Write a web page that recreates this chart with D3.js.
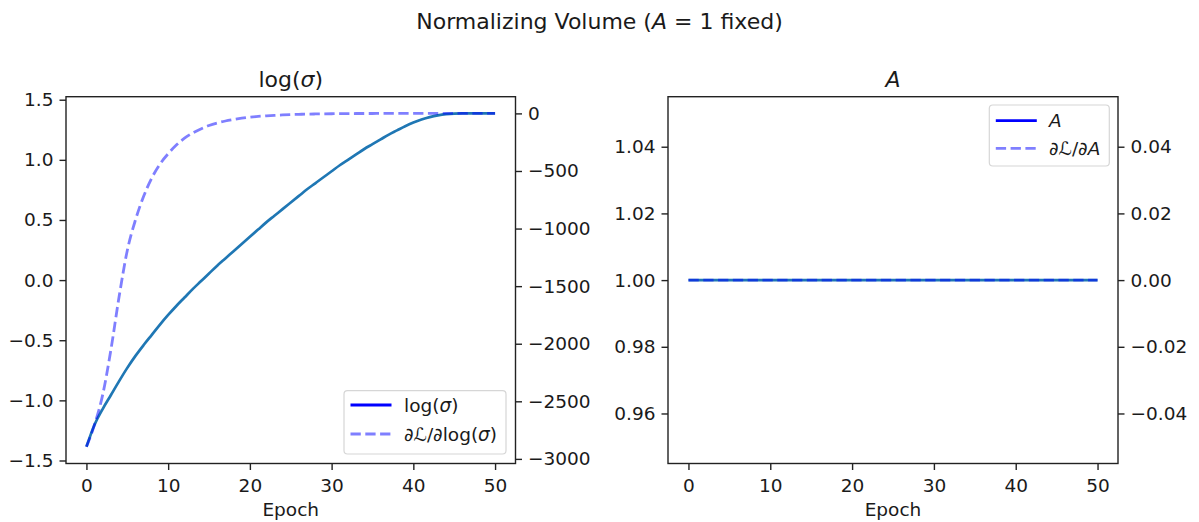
<!DOCTYPE html>
<html>
<head>
<meta charset="utf-8">
<script src="https://cdn.jsdelivr.net/npm/d3@7"></script>
<style>
  body { margin: 0; background: #fff; }
  text { font-family: "DejaVu Sans", sans-serif; fill: #1a1a1a; }
</style>
</head>
<body>
<div id="chart"></div>
<script>
// epochs shared by both panels
const epochs = [0, 1, 2, 3, 4, 5, 6, 7, 8, 9, 10, 11, 12, 13, 14, 15, 16, 17, 18, 19, 20,
    21, 22, 23, 24, 25, 26, 27, 28, 29, 30, 31, 32, 33, 34, 35, 36, 37, 38, 39, 40,
    41, 42, 43, 44, 45, 46, 47, 48, 49, 50];

// left panel: log(sigma) and its gradient (right axis)
const logSigma = [-1.386, -1.20, -1.07, -0.955, -0.84, -0.73, -0.63, -0.54, -0.455, -0.37,
    -0.29, -0.215, -0.145, -0.075, -0.01, 0.055, 0.12, 0.18, 0.24, 0.30,
    0.36, 0.42, 0.48, 0.535, 0.59, 0.645, 0.70, 0.755, 0.805, 0.855,
    0.905, 0.955, 1.00, 1.045, 1.09, 1.13, 1.17, 1.21, 1.245, 1.28,
    1.31, 1.335, 1.355, 1.37, 1.38, 1.385, 1.386, 1.386, 1.386, 1.386, 1.386];
const gradLogSigma = [-2895, -2700, -2440, -2050, -1590, -1190, -925, -720, -560, -440,
    -350, -275, -215, -170, -135, -105, -83, -66, -53, -42,
    -33, -26, -21, -17, -13, -10, -8, -6, -5, -4,
    -3, -2, -2, -1, -1, -1, 0, 0, 0, 0,
    0, 0, 0, 0, 0, 0, 0, 0, 0, 0, 0];

// right panel: A (fixed) and its gradient
const ampA = [1, 1, 1, 1, 1, 1, 1, 1, 1, 1, 1, 1, 1, 1, 1, 1, 1, 1, 1, 1, 1, 1, 1, 1, 1, 1,
    1, 1, 1, 1, 1, 1, 1, 1, 1, 1, 1, 1, 1, 1, 1, 1, 1, 1, 1, 1, 1, 1, 1, 1, 1];
const gradA = [0, 0, 0, 0, 0, 0, 0, 0, 0, 0, 0, 0, 0, 0, 0, 0, 0, 0, 0, 0, 0, 0, 0, 0, 0, 0,
    0, 0, 0, 0, 0, 0, 0, 0, 0, 0, 0, 0, 0, 0, 0, 0, 0, 0, 0, 0, 0, 0, 0, 0, 0];

// tick values
const xTicks = [0, 10, 20, 30, 40, 50];
const logSigmaTicks = [-1.5, -1.0, -0.5, 0.0, 0.5, 1.0, 1.5];
const gradLogSigmaTicks = [-3000, -2500, -2000, -1500, -1000, -500, 0];
const ampTicks = [0.96, 0.98, 1.00, 1.02, 1.04];
const gradATicks = [-0.04, -0.02, 0.00, 0.02, 0.04];

const W = 1199, H = 522;
const plotTop = 96.7, plotBottom = 463.5;
const tickFont = "18.5px", titleFont = "22px";
const panels = [
    {left: 66, right: 515.5, y: logSigma, y2: gradLogSigma,
     yDomain: [-1.525, 1.525], y2Domain: [-3040, 145],
     yTicks: logSigmaTicks, y2Ticks: gradLogSigmaTicks,
     yFmt: d3.format(".1f"), y2Fmt: d3.format("d")},
    {left: 668, right: 1118, y: ampA, y2: gradA,
     yDomain: [0.945, 1.055], y2Domain: [-0.055, 0.055],
     yTicks: ampTicks, y2Ticks: gradATicks,
     yFmt: d3.format(".2f"), y2Fmt: d3.format(".2f")}
];

const svg = d3.select("#chart")
    .append("svg")
    .attr("width", W)
    .attr("height", H);

// suptitle
const sup = svg.append("text")
    .attr("x", 599.5)
    .attr("y", 29)
    .attr("text-anchor", "middle")
    .style("font-size", titleFont);
sup.append("tspan").text("Normalizing Volume (");
sup.append("tspan").style("font-style", "italic").text("A");
sup.append("tspan").text(" = 1 fixed)");

panels.forEach(function (p, i) {
    const g = svg.append("g");

    const x = d3.scaleLinear().domain([-2.5, 52.5]).range([p.left, p.right]);
    const y = d3.scaleLinear().domain(p.yDomain).range([plotBottom, plotTop]);
    const y2 = d3.scaleLinear().domain(p.y2Domain).range([plotBottom, plotTop]);

    const xAxis = g.append("g")
        .attr("transform", `translate(0, ${plotBottom})`)
        .call(d3.axisBottom(x).tickValues(xTicks).tickFormat(d3.format("d")).tickSize(6.5).tickPadding(8.5));
    const yAxis = g.append("g")
        .attr("transform", `translate(${p.left}, 0)`)
        .call(d3.axisLeft(y).tickValues(p.yTicks).tickFormat(p.yFmt).tickSize(6.5).tickPadding(6));
    const y2Axis = g.append("g")
        .attr("transform", `translate(${p.right}, 0)`)
        .call(d3.axisRight(y2).tickValues(p.y2Ticks).tickFormat(p.y2Fmt).tickSize(6.5).tickPadding(6));

    [xAxis, yAxis, y2Axis].forEach(function (a) {
        a.select(".domain").remove();
        a.selectAll("line").attr("stroke", "#222").attr("stroke-width", 1.4);
        a.selectAll("text")
            .attr("fill", "#1a1a1a")
            .style("font-family", "DejaVu Sans")
            .style("font-size", tickFont);
    });

    const line = d3.line()
        .x(function (d, j) {return x(epochs[j]);})
        .y(function (d) {return y(d);})
        .curve(d3.curveMonotoneX);
    const line2 = d3.line()
        .x(function (d, j) {return x(epochs[j]);})
        .y(function (d) {return y2(d);})
        .curve(d3.curveMonotoneX);

    g.append("path")
        .datum(p.y)
        .attr("d", line)
        .attr("fill", "none")
        .attr("stroke", "#1f77b4")
        .attr("stroke-width", 2.7);

    g.append("path")
        .datum(p.y2)
        .attr("d", line2)
        .attr("fill", "none")
        .attr("stroke", "#0000ff")
        .attr("stroke-opacity", 0.5)
        .attr("stroke-width", 2.8)
        .attr("stroke-dasharray", "10.3,4.5");

    // frame
    g.append("rect")
        .attr("x", p.left)
        .attr("y", plotTop)
        .attr("width", p.right - p.left)
        .attr("height", plotBottom - plotTop)
        .attr("fill", "none")
        .attr("stroke", "#222")
        .attr("stroke-width", 1.4);

    // panel title
    const cx = (p.left + p.right) / 2;
    const t = g.append("text")
        .attr("x", cx)
        .attr("y", 87)
        .attr("text-anchor", "middle")
        .style("font-size", titleFont);
    if (i === 0) {
        t.append("tspan").text("log(");
        t.append("tspan").style("font-style", "italic").text("σ");
        t.append("tspan").text(")");
    } else {
        t.append("tspan").style("font-style", "italic").text("A");
    }

    g.append("text")
        .attr("x", cx)
        .attr("y", 516)
        .attr("text-anchor", "middle")
        .style("font-size", tickFont)
        .text("Epoch");
});

// legends
function legend(box, labels) {
    const lg = svg.append("g");
    lg.append("rect")
        .attr("x", box.x).attr("y", box.y)
        .attr("width", box.w).attr("height", box.h)
        .attr("rx", 3.5)
        .attr("fill", "#fff").attr("fill-opacity", 0.8)
        .attr("stroke", "#d6d6d6").attr("stroke-width", 1.2);
    labels.forEach(function (lab, k) {
        const yy = box.y + box.row0 + k * box.step;
        lg.append("line")
            .attr("x1", box.x + 6.5).attr("x2", box.x + 47.5)
            .attr("y1", yy).attr("y2", yy)
            .attr("stroke", "#0000ff")
            .attr("stroke-opacity", k === 0 ? 1 : 0.5)
            .attr("stroke-width", 2.8)
            .attr("stroke-dasharray", k === 0 ? null : "10.3,4.5");
        const t = lg.append("text")
            .attr("x", box.x + box.tx)
            .attr("y", yy + 6.5)
            .style("font-size", tickFont);
        lab.forEach(function (part) {
            t.append("tspan")
                .style("font-style", part[1] ? "italic" : "normal")
                .text(part[0]);
        });
    });
}

legend({x: 344, y: 390.7, w: 162, h: 63.3, tx: 60, row0: 14.3, step: 29},
    [[["log(", false], ["σ", true], [")", false]],
     [["∂ℒ/∂log(", false], ["σ", true], [")", false]]]);
legend({x: 989.3, y: 105, w: 120, h: 61, tx: 59.7, row0: 15.7, step: 27.6},
    [[["A", true]],
     [["∂ℒ/∂", false], ["A", true]]]);
</script>
</body>
</html>
